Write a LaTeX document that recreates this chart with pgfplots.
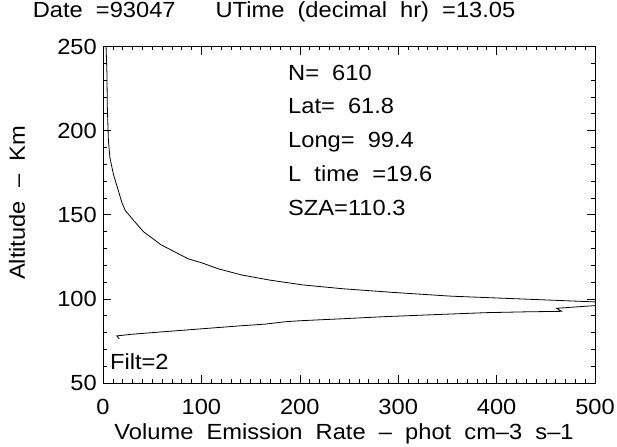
\documentclass[border=0pt]{standalone}
\usepackage{fontspec}
\setmainfont{Liberation Sans}[FakeStretch=1.08, WordSpace=2]
\usepackage{pgfplots}
\pgfplotsset{compat=1.18}
\pgfplotstableread{
x y
16.5 76.3
14 78
30 79
60 80.4
100 82.2
140 84
165 85
185 86.4
200 87
244 88.2
285 89.4
340 90.7
389 91.8
430 92.3
466 92.6
461 94.4
500 96
540 97.2
500 98.2
423 100
354 101.6
296 103.8
244 106
203 108.3
169 111.2
141 114.2
117.5 117.8
100 121.5
86.6 123.8
58.8 132.2
41 140
32 146
22.7 152.5
19.3 157
15.8 164
10.6 174
7 184
5.5 194
4.4 214
4 234
3 252
}\profile
\begin{document}
\fontsize{22}{26}\selectfont
\begin{tikzpicture}
\useasboundingbox (-103bp,-64bp) rectangle (514bp,383bp);
\begin{axis}[
  at={(0,0)}, anchor=south west, scale only axis,
  width=492bp, height=336.5bp,
  xmin=0, xmax=500, ymin=50, ymax=250,
  xtick={0,100,...,500}, ytick={50,100,...,250},
  minor x tick num=9, minor y tick num=4,
  tick align=inside, major tick length=8bp, minor tick length=4bp,
  xtick pos=both, ytick pos=both,
  axis line style={line width=0.8bp, black},
  every tick/.style={line width=0.6bp, black},
  /pgf/number format/assume math mode=true,
  xticklabel style={anchor=north, inner sep=0pt, yshift=-16bp},
  yticklabel style={anchor=east, inner sep=0pt, xshift=-6bp},
  xlabel={Volume Emission Rate -- phot cm--3 s--1},
  xlabel style={at={(axis description cs:0.49,0)}, anchor=base, inner sep=0pt, yshift=-56bp},
  ylabel={Altitude -- Km},
  ylabel style={at={(axis description cs:-0.159,0.535)}, anchor=base, rotate=0, inner sep=0pt},
  title={Date =93047\hspace{40bp}UTime (decimal hr) =13.05},
  title style={at={(axis description cs:-0.143,1)}, anchor=base west, inner sep=0pt, yshift=23.5bp},
  clip=true,
]
\addplot[black, line width=0.8bp, mark=none] table[x=x,y=y] {\profile};
\node[anchor=base west, inner sep=0pt] at (axis description cs:0.376,0.900) {N= 610};
\node[anchor=base west, inner sep=0pt] at (axis description cs:0.376,0.800) {Lat= 61.8};
\node[anchor=base west, inner sep=0pt] at (axis description cs:0.376,0.700) {Long= 99.4};
\node[anchor=base west, inner sep=0pt] at (axis description cs:0.376,0.598) {L time =19.6};
\node[anchor=base west, inner sep=0pt] at (axis description cs:0.376,0.497) {SZA=110.3};
\node[anchor=base west, inner sep=0pt] at (axis description cs:0.014,0.040) {Filt=2};
\end{axis}
\end{tikzpicture}
\end{document}
